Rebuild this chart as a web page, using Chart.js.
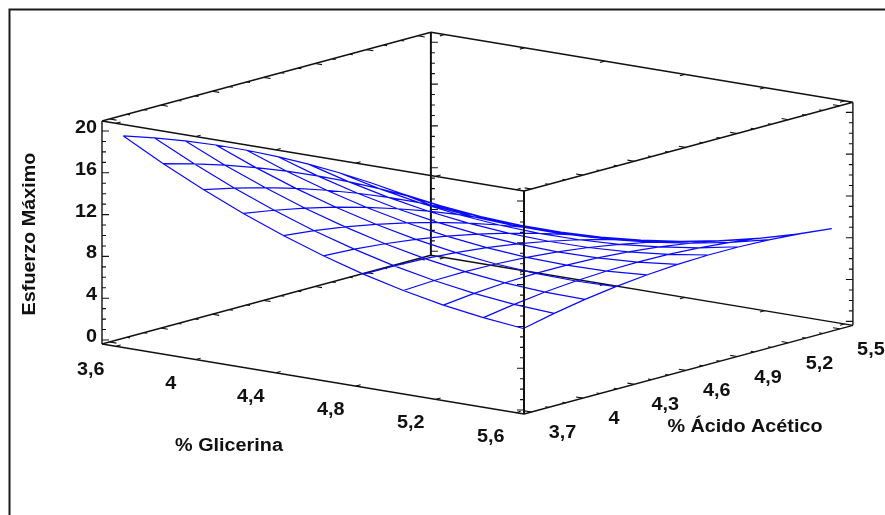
<!DOCTYPE html>
<html>
<head>
<meta charset="utf-8">
<script src="https://cdn.jsdelivr.net/npm/chart.js@4/dist/chart.umd.min.js"></script>
<style>
  html, body { margin: 0; padding: 0; background: #fff; }
  canvas { display: block; }
</style>
</head>
<body>
<canvas id="surfaceChart" width="885" height="515"></canvas>
<script>
// grid of the fitted surface
var glicerina = [3.6, 3.8, 4.0, 4.2, 4.4, 4.6, 4.8, 5.0, 5.2, 5.4, 5.6];
var acido = [3.7, 3.88, 4.06, 4.24, 4.42, 4.6, 4.78, 4.96, 5.14, 5.32, 5.5];

// one row per glicerina value, one column per acido value
var esfuerzo = [
  [19.55, 18.58, 17.49, 16.30, 15.00, 13.60, 12.08, 10.46, 8.73, 6.89, 4.94],
  [17.53, 16.72, 15.80, 14.77, 13.63, 12.39, 11.04, 9.57, 8.01, 6.33, 4.54],
  [15.69, 15.04, 14.29, 13.42, 12.44, 11.36, 10.17, 8.87, 7.46, 5.95, 4.32],
  [14.04, 13.55, 12.95, 12.25, 11.43, 10.51, 9.48, 8.35, 7.10, 5.75, 4.29],
  [12.56, 12.23, 11.80, 11.25, 10.60, 9.85, 8.98, 8.00, 6.92, 5.73, 4.43],
  [11.26, 11.10, 10.82, 10.44, 9.96, 9.36, 8.65, 7.84, 6.92, 5.89, 4.75],
  [10.14, 10.14, 10.03, 9.81, 9.49, 9.05, 8.51, 7.86, 7.10, 6.23, 5.26],
  [9.21, 9.37, 9.42, 9.36, 9.20, 8.93, 8.55, 8.06, 7.46, 6.75, 5.94],
  [8.45, 8.77, 8.99, 9.09, 9.09, 8.98, 8.76, 8.44, 8.00, 7.46, 6.81],
  [7.88, 8.36, 8.74, 9.00, 9.16, 9.21, 9.16, 8.99, 8.72, 8.34, 7.85],
  [7.48, 8.13, 8.67, 9.10, 9.42, 9.63, 9.74, 9.73, 9.62, 9.40, 9.08]
];

// tick labels and tick positions
var glicerinaLabels = ['3,6', '4', '4,4', '4,8', '5,2', '5,6'];
var acidoLabels = ['3,7', '4', '4,3', '4,6', '4,9', '5,2', '5,5'];
var esfuerzoLabels = ['0', '4', '8', '12', '16', '20'];
var acidoTicks = [3.7, 3.8, 3.9, 4, 4.1, 4.2, 4.3, 4.4, 4.5, 4.6, 4.7, 4.8, 4.9, 5, 5.1, 5.2, 5.3, 5.4, 5.5];
var esfuerzoTicks = [0, 1, 2, 3, 4, 5, 6, 7, 8, 9, 10, 11, 12, 13, 14, 15, 16, 17, 18, 19, 20];

// axis limits of the box
var gMin = 3.531, gMax = 5.641;
var aMin = 3.656, aMax = 5.576;
var eMin = -0.38, eMax = 20.96;

function num(label) {
  return parseFloat(label.replace(',', '.'));
}

// oblique view of the box
function project(g, a, e) {
  return {
    x: 102 + (g - gMin) * 200 + (a - aMin) * 171.3,
    y: 340 + (g - gMin) * 33.2 - (a - aMin) * 46.2 - e * 10.45
  };
}

var GAP = { x: null, y: null };

function edge(g1, a1, e1, g2, a2, e2) {
  return [project(g1, a1, e1), project(g2, a2, e2), GAP];
}

function tick(p, dx, dy, len) {
  return [p, { x: p.x + dx * len, y: p.y + dy * len }, GAP];
}

// mesh lines in both directions
var meshPoints = [];
glicerina.forEach(function(g, i) {
  acido.forEach(function(a, j) {
    meshPoints.push(project(g, a, esfuerzo[i][j]));
  });
  meshPoints.push(GAP);
});
acido.forEach(function(a, j) {
  glicerina.forEach(function(g, i) {
    meshPoints.push(project(g, a, esfuerzo[i][j]));
  });
  meshPoints.push(GAP);
});

// box edges, back ones go under the mesh
var backEdges = [].concat(
  edge(gMin, aMin, eMin, gMin, aMax, eMin),
  edge(gMin, aMax, eMin, gMax, aMax, eMin)
);
var backPost = edge(gMin, aMax, eMin, gMin, aMax, eMax);
var topEdges = [].concat(
  edge(gMin, aMin, eMax, gMax, aMin, eMax),
  edge(gMax, aMin, eMax, gMax, aMax, eMax),
  edge(gMax, aMax, eMax, gMin, aMax, eMax),
  edge(gMin, aMax, eMax, gMin, aMin, eMax)
);
var frontEdges = [].concat(
  edge(gMin, aMin, eMin, gMax, aMin, eMin),
  edge(gMax, aMin, eMin, gMax, aMax, eMin),
  edge(gMin, aMin, eMin, gMin, aMin, eMax),
  edge(gMax, aMax, eMin, gMax, aMax, eMax)
);
var frontPost = edge(gMax, aMin, eMin, gMax, aMin, eMax);

// tick marks on all the box edges
var tickPoints = [];
esfuerzoTicks.forEach(function(e) {
  var len = e % 4 === 0 ? 7 : 4;
  tickPoints = tickPoints.concat(
    tick(project(gMin, aMin, e), 1, 0, len),
    tick(project(gMin, aMax, e), 1, 0, len),
    tick(project(gMax, aMin, e), -1, 0, len),
    tick(project(gMax, aMax, e), -1, 0, len)
  );
});
acidoTicks.forEach(function(a, n) {
  var len = n % 3 === 0 ? 7 : 3.5;
  [eMin, eMax].forEach(function(e) {
    tickPoints = tickPoints.concat(
      tick(project(gMin, a, e), 0.986, 0.164, len),
      tick(project(gMax, a, e), -0.986, -0.164, len)
    );
  });
});
glicerinaLabels.forEach(function(label) {
  [eMin, eMax].forEach(function(e) {
    tickPoints = tickPoints.concat(
      tick(project(num(label), aMin, e), 0.965, -0.26, 5),
      tick(project(num(label), aMax, e), -0.965, 0.26, 5)
    );
  });
});

function lineSet(name, points, color, width) {
  return {
    label: name,
    data: points,
    showLine: true,
    borderColor: color,
    borderWidth: width,
    pointRadius: 0,
    fill: false,
    tension: 0
  };
}

// text of the axes, placed from the same projection as the marks
var axisText = {
  id: 'axisText',
  afterDraw: function(chart) {
    var ctx = chart.ctx;
    var sx = chart.scales.x, sy = chart.scales.y;

    // the original type is a little wider than Liberation Sans Bold
    function put(text, x, y, align, angle) {
      ctx.save();
      ctx.translate(sx.getPixelForValue(x), sy.getPixelForValue(y));
      if (angle) ctx.rotate(angle);
      ctx.scale(1.1, 1);
      ctx.textAlign = align;
      ctx.fillText(text, 0, 0);
      ctx.restore();
    }

    ctx.save();
    ctx.fillStyle = '#111';
    ctx.textBaseline = 'middle';
    ctx.font = 'bold 18px "Liberation Sans", Arial, sans-serif';
    glicerinaLabels.forEach(function(label) {
      var p = project(num(label), aMin, eMin);
      put(label, p.x - 25, p.y + 24, 'center');
    });
    acidoLabels.forEach(function(label) {
      var p = project(gMax, num(label), eMin);
      put(label, p.x + 31, p.y + 21, 'center');
    });
    esfuerzoLabels.forEach(function(label) {
      var p = project(gMin, aMin, num(label));
      put(label, p.x - 5, p.y - 3, 'right');
    });
    put('% Glicerina', 229, 446, 'center');
    put('% Ácido Acético', 745, 427, 'center');
    put('Esfuerzo Máximo', 30, 234, 'center', -Math.PI / 2);
    ctx.restore();
  }
};

document.addEventListener('DOMContentLoaded', function() {
  var ctx = document.getElementById('surfaceChart').getContext('2d');
  new Chart(ctx, {
    type: 'scatter',
    data: {
      datasets: [
        lineSet('frame', [{ x: 9.5, y: 515 }, { x: 9.5, y: 9.5 }, { x: 885, y: 9.5 }], '#1a1a1a', 2),
        lineSet('frontPost', frontPost, '#111', 2),
        lineSet('front', frontEdges, '#111', 1.4),
        lineSet('mesh', meshPoints, '#0a0aff', 1.2),
        lineSet('top', topEdges, '#111', 1.6),
        lineSet('back', backEdges, '#111', 1.4),
        lineSet('backPost', backPost, '#111', 2),
        lineSet('ticks', tickPoints, '#111', 1.1)
      ]
    },
    options: {
      responsive: false,
      animation: false,
      layout: { padding: 0 },
      plugins: { legend: { display: false }, tooltip: { enabled: false } },
      scales: {
        x: { type: 'linear', display: false, min: 0, max: 885 },
        y: { type: 'linear', display: false, min: 0, max: 515, reverse: true }
      }
    },
    plugins: [axisText]
  });
});
</script>
</body>
</html>
